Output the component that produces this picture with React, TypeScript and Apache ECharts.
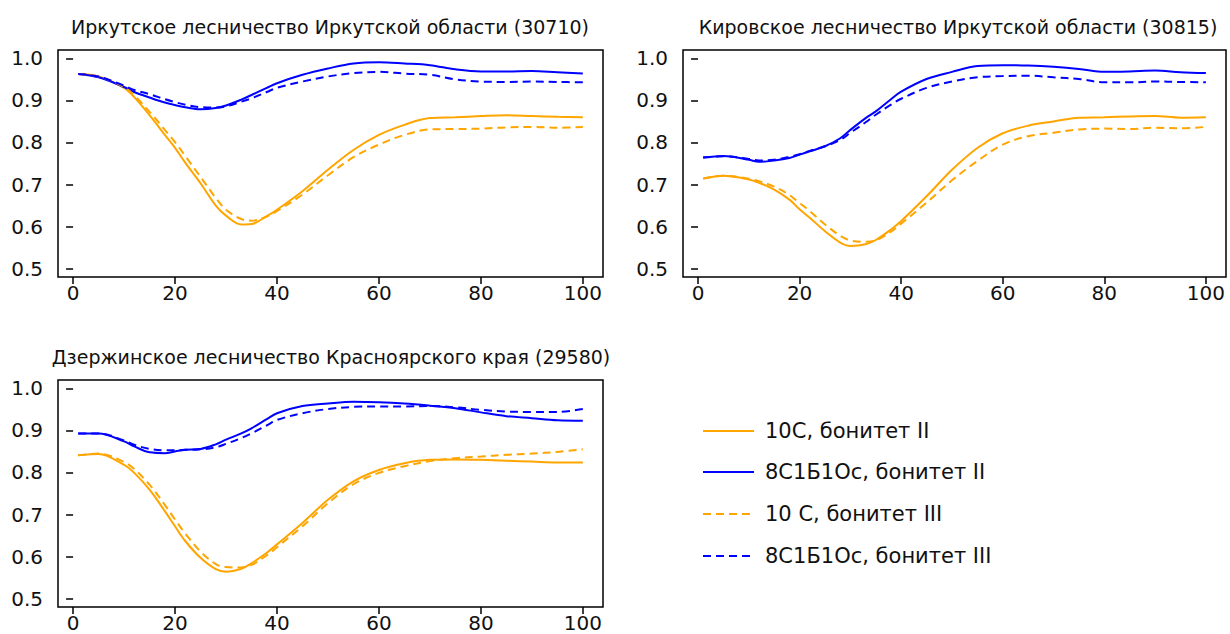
import { useEffect, useRef } from "react";
import * as echarts from "echarts";

// ---------- data ----------
const ages = [1, 5, 10, 12, 15, 18, 20, 22, 25, 28, 30, 33, 35, 38, 40, 45, 50, 55, 60, 65, 70, 75, 80, 85, 90, 95, 100];
const xTicks = [0, 20, 40, 60, 80, 100];
const yTicks = [0.5, 0.6, 0.7, 0.8, 0.9, 1.0];

const panelTitles = [
  "Иркутское лесничество Иркутской области (30710)",
  "Кировское лесничество Иркутской области (30815)",
  "Дзержинское лесничество Красноярского края (29580)",
];

const seriesNames = [
  "10С, бонитет II",
  "8С1Б1Ос, бонитет II",
  "10 С, бонитет III",
  "8С1Б1Ос, бонитет III",
];

// Panel 1: Иркутское
const p1Pine2 = [0.963, 0.957, 0.930, 0.908, 0.865, 0.818, 0.787, 0.752, 0.703, 0.650, 0.626, 0.605, 0.606, 0.625, 0.640, 0.684, 0.735, 0.782, 0.818, 0.842, 0.858, 0.860, 0.863, 0.865, 0.863, 0.861, 0.860];
const p1Mix2 = [0.963, 0.955, 0.932, 0.920, 0.907, 0.895, 0.889, 0.884, 0.879, 0.882, 0.888, 0.902, 0.913, 0.930, 0.941, 0.961, 0.976, 0.988, 0.991, 0.988, 0.984, 0.974, 0.969, 0.969, 0.970, 0.967, 0.964];
const p1Pine3 = [0.963, 0.957, 0.932, 0.912, 0.873, 0.830, 0.801, 0.768, 0.718, 0.668, 0.640, 0.618, 0.614, 0.624, 0.637, 0.676, 0.722, 0.765, 0.795, 0.818, 0.831, 0.832, 0.833, 0.836, 0.837, 0.835, 0.837];
const p1Mix3 = [0.963, 0.957, 0.935, 0.925, 0.915, 0.903, 0.896, 0.890, 0.884, 0.883, 0.886, 0.897, 0.905, 0.920, 0.930, 0.945, 0.957, 0.965, 0.968, 0.964, 0.961, 0.950, 0.945, 0.944, 0.945, 0.944, 0.943];

// Panel 2: Кировское
const p2Pine2 = [0.714, 0.721, 0.712, 0.704, 0.688, 0.664, 0.641, 0.621, 0.589, 0.562, 0.554, 0.558, 0.568, 0.593, 0.613, 0.672, 0.735, 0.787, 0.822, 0.840, 0.850, 0.859, 0.860, 0.862, 0.863, 0.859, 0.860];
const p2Mix2 = [0.764, 0.768, 0.759, 0.754, 0.757, 0.763, 0.771, 0.779, 0.791, 0.810, 0.830, 0.858, 0.874, 0.903, 0.921, 0.951, 0.968, 0.982, 0.984, 0.983, 0.980, 0.975, 0.968, 0.969, 0.971, 0.967, 0.965];
const p2Pine3 = [0.714, 0.721, 0.714, 0.708, 0.695, 0.675, 0.656, 0.637, 0.605, 0.578, 0.567, 0.564, 0.567, 0.588, 0.607, 0.657, 0.710, 0.756, 0.795, 0.815, 0.823, 0.831, 0.833, 0.832, 0.835, 0.834, 0.837];
const p2Mix3 = [0.764, 0.767, 0.761, 0.757, 0.759, 0.766, 0.772, 0.780, 0.791, 0.806, 0.823, 0.848, 0.866, 0.890, 0.904, 0.930, 0.945, 0.955, 0.958, 0.959, 0.955, 0.951, 0.943, 0.943, 0.945, 0.944, 0.943];

// Panel 3: Дзержинское
const p3Pine2 = [0.841, 0.844, 0.818, 0.799, 0.759, 0.708, 0.672, 0.637, 0.597, 0.570, 0.564, 0.571, 0.584, 0.609, 0.629, 0.680, 0.735, 0.779, 0.806, 0.822, 0.830, 0.831, 0.830, 0.828, 0.826, 0.824, 0.824];
const p3Mix2 = [0.893, 0.893, 0.874, 0.862, 0.848, 0.846, 0.850, 0.854, 0.856, 0.867, 0.878, 0.893, 0.905, 0.927, 0.941, 0.958, 0.964, 0.968, 0.967, 0.964, 0.959, 0.953, 0.943, 0.934, 0.929, 0.924, 0.923];
const p3Pine3 = [0.841, 0.845, 0.825, 0.808, 0.771, 0.723, 0.688, 0.655, 0.612, 0.582, 0.575, 0.574, 0.580, 0.603, 0.622, 0.672, 0.727, 0.772, 0.799, 0.815, 0.827, 0.834, 0.838, 0.842, 0.845, 0.849, 0.855];
const p3Mix3 = [0.893, 0.893, 0.876, 0.866, 0.856, 0.853, 0.853, 0.854, 0.855, 0.860, 0.868, 0.882, 0.893, 0.912, 0.925, 0.941, 0.951, 0.956, 0.957, 0.957, 0.958, 0.955, 0.949, 0.945, 0.944, 0.944, 0.951];

const panels = [
  [p1Pine2, p1Mix2, p1Pine3, p1Mix3],
  [p2Pine2, p2Mix2, p2Pine3, p2Mix3],
  [p3Pine2, p3Mix2, p3Pine3, p3Mix3],
];

// ---------- styling ----------
const ORANGE = "#FFA500";
const BLUE = "#0000FF";
const seriesColors = [ORANGE, BLUE, ORANGE, BLUE];
const seriesDashed = [false, false, true, true];
const FONT = "'DejaVu Sans', 'Liberation Sans', Arial, sans-serif";
const DASH = [8, 5];

const gridBoxes = [
  { left: 58, top: 50, width: 545, height: 227 },
  { left: 683, top: 50, width: 543, height: 227 },
  { left: 58, top: 380, width: 545, height: 227 },
];
const titlePos = [
  { x: 330, y: 27 },
  { x: 958, y: 27 },
  { x: 331, y: 357 },
];

export default function App() {
  const ref = useRef<HTMLDivElement>(null);

  useEffect(() => {
    if (!ref.current) return;
    const chart = echarts.init(ref.current, undefined, { renderer: "svg" });

    const grid = gridBoxes.map((g) => ({
      ...g,
      show: true,
      borderColor: "#000",
      borderWidth: 1.5,
      backgroundColor: "transparent",
      containLabel: false,
    }));

    const xAxis = gridBoxes.map((_, i) => ({
      type: "value",
      gridIndex: i,
      min: -2.96,
      max: 103.96,
      axisLine: { show: false },
      splitLine: { show: false },
      axisTick: {
        show: true,
        customValues: xTicks,
        length: 7,
        lineStyle: { color: "#000", width: 1.5 },
      },
      axisLabel: {
        customValues: xTicks,
        margin: 6,
        fontSize: 20,
        color: "#111",
        fontFamily: FONT,
      },
    }));

    const yAxis = gridBoxes.map((_, i) => ({
      type: "value",
      gridIndex: i,
      min: 0.48,
      max: 1.02,
      axisLine: { show: false },
      splitLine: { show: false },
      axisTick: {
        show: true,
        customValues: yTicks,
        length: 7,
        lineStyle: { color: "#000", width: 1.5 },
      },
      axisLabel: {
        customValues: yTicks,
        margin: 15,
        fontSize: 20,
        color: "#111",
        fontFamily: FONT,
        formatter: (v: number) => v.toFixed(1),
      },
    }));

    const series: any[] = [];
    panels.forEach((panel, pi) => {
      panel.forEach((vals, si) => {
        series.push({
          type: "line",
          name: seriesNames[si],
          xAxisIndex: pi,
          yAxisIndex: pi,
          data: ages.map((a, k) => [a, vals[k]]),
          smooth: 0.35,
          showSymbol: false,
          symbol: "none",
          lineStyle: {
            color: seriesColors[si],
            width: 2,
            type: seriesDashed[si] ? DASH : "solid",
          },
          itemStyle: { color: seriesColors[si] },
          z: seriesDashed[si] ? 3 : 2,
        });
      });
    });

    const graphic: any[] = [];
    panelTitles.forEach((t, i) => {
      graphic.push({
        type: "text",
        x: titlePos[i].x,
        y: titlePos[i].y,
        style: {
          text: t,
          fontSize: 19,
          fontFamily: FONT,
          fill: "#111",
          align: "center",
          verticalAlign: "middle",
          textAlign: "center",
          textVerticalAlign: "middle",
        },
      });
    });
    const legendYs = [431, 472, 514, 556];
    seriesNames.forEach((n, i) => {
      graphic.push({
        type: "line",
        shape: { x1: 703, y1: legendYs[i], x2: 754, y2: legendYs[i] },
        style: {
          stroke: seriesColors[i],
          lineWidth: 2,
          lineDash: seriesDashed[i] ? DASH : null,
        },
      });
      graphic.push({
        type: "text",
        x: 765,
        y: legendYs[i],
        style: {
          text: n,
          fontSize: 21,
          fontFamily: FONT,
          fill: "#111",
          align: "left",
          verticalAlign: "middle",
          textAlign: "left",
          textVerticalAlign: "middle",
        },
      });
    });

    chart.setOption({
      animation: false,
      backgroundColor: "#fff",
      grid,
      xAxis,
      yAxis,
      series,
      graphic,
    });

    return () => chart.dispose();
  }, []);

  return (
    <div
      ref={ref}
      style={{ position: "fixed", left: 0, top: 0, width: 1230, height: 634, background: "#fff" }}
    />
  );
}
